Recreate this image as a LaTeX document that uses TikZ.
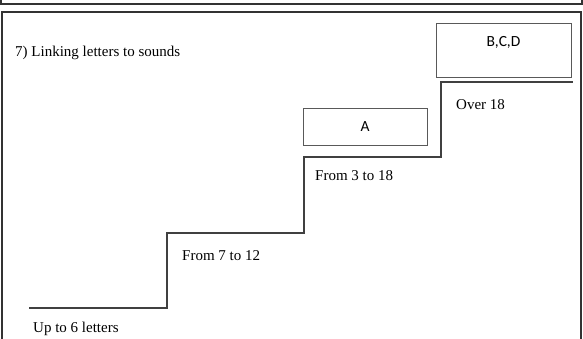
\documentclass[tikz,border=0pt]{standalone}
\usepackage{fontspec}
\setmainfont{Liberation Serif}
\newfontfamily\boxfont{Carlito}
\begin{document}
\begin{tikzpicture}[x=1pt,y=-1pt,
  frame/.style={draw=black!80,line width=1.4pt},
  stair/.style={draw=black!75,line width=1.2pt},
  labelbox/.style={draw=black!65,line width=0.8pt,minimum width=#1,inner sep=0pt,font=\boxfont\fontsize{15.5}{18}\selectfont},
  steplabel/.style={anchor=base west,inner sep=0pt,font=\fontsize{15}{18}\selectfont}]
\useasboundingbox (0,0) rectangle (583,339);
% frames
\draw[frame] (1,-10) rectangle (582,4);
\draw[frame] (2,350) -- (2,12) -- (581,12) -- (581,350);
% title
\node[steplabel] (title) at (15,57) {7) Linking letters to sounds};
% staircase
\coordinate (s0) at (29,308);
\coordinate (s1) at (167,308);
\coordinate (s2) at (167,233);
\coordinate (s3) at (304,233);
\coordinate (s4) at (304,157);
\coordinate (s5) at (441,157);
\coordinate (s6) at (441,82);
\coordinate (s7) at (573,82);
\draw[stair,line join=miter] (s0) -- (s1) -- (s2) -- (s3) -- (s4) -- (s5) -- (s6) -- (s7);
% boxes
\draw[draw=black!65,line width=0.8pt] (436,23) rectangle (571,77);
\node[inner sep=0pt,font=\boxfont\fontsize{15.5}{18}\selectfont] (bcd) at (503.5,42) {B,C,D};
\draw[draw=black!65,line width=0.8pt] (303,108) rectangle (427,145);
\node[inner sep=0pt,font=\boxfont\fontsize{15.5}{18}\selectfont] (a) at (365,126.5) {A};
% step labels
\node[steplabel] (over) at (456,110) {Over 18};
\node[steplabel] (f318) at (315,181) {From 3 to 18};
\node[steplabel] (f712) at (182,260) {From 7 to 12};
\node[steplabel] (up6) at (33,332) {Up to 6 letters};
\end{tikzpicture}
\end{document}
